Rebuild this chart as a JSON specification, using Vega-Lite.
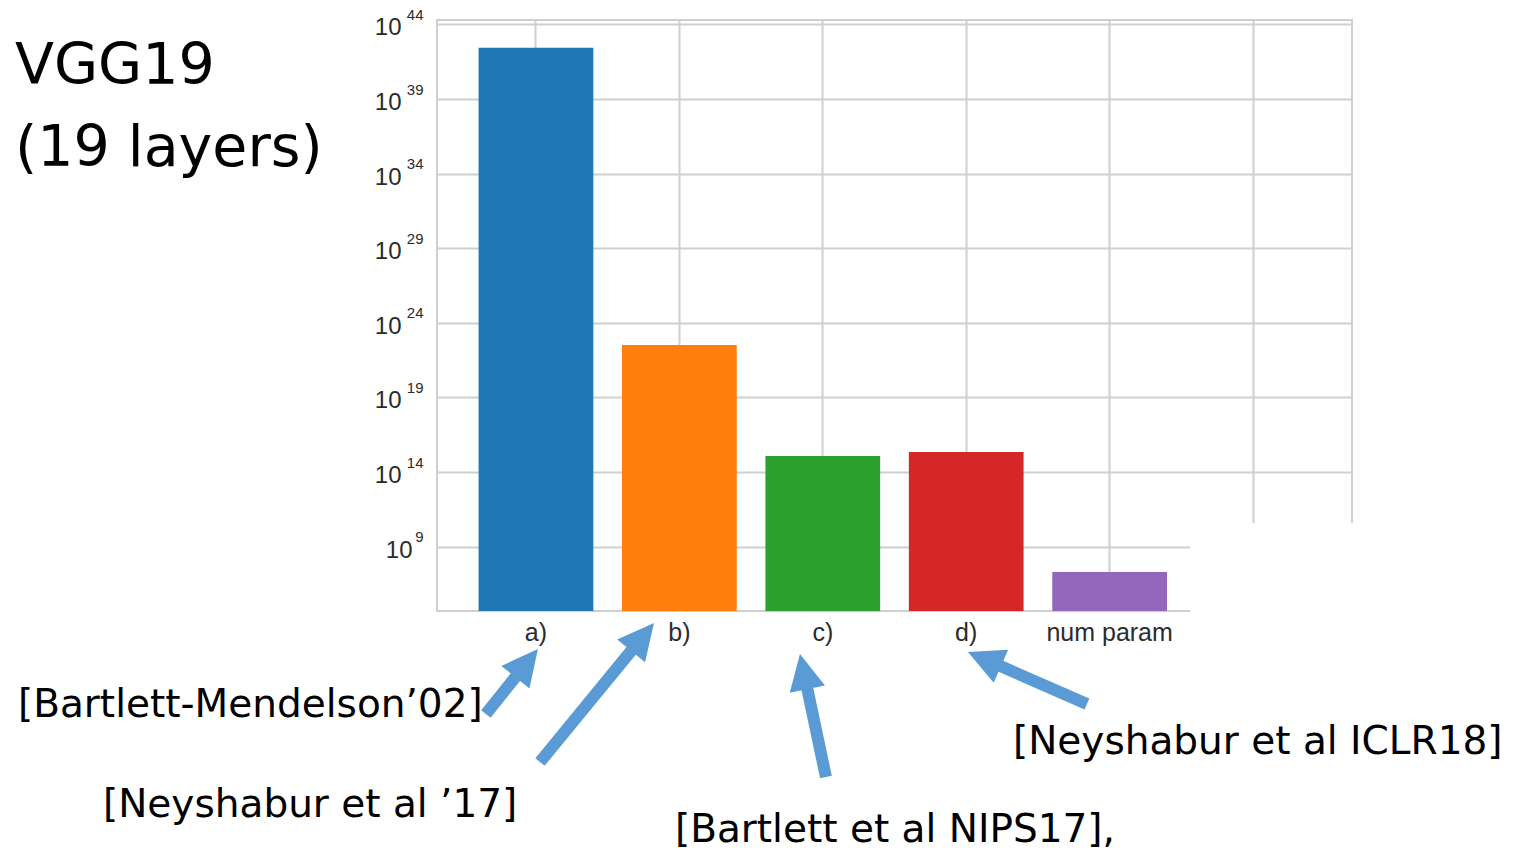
{
  "$schema": "https://vega.github.io/schema/vega-lite/v6.json",
  "width": 915,
  "height": 591,
  "autosize": {"type": "none"},
  "padding": {"left": 437, "top": 20, "right": 167, "bottom": 239},
  "background": "white",
  "config": {
    "view": {"stroke": "#cfcfcf", "strokeWidth": 2},
    "axis": {"ticks": false, "domain": false, "grid": true, "gridColor": "#cfcfcf", "gridWidth": 2, "title": null, "labelFont": "Liberation Sans", "labelColor": "#2b2b2b", "labelFontSize": 22}
  },
  "datasets": {
    "barvalues": [
      {"bound": "a)", "value": 2.8e42},
      {"bound": "b)", "value": 3.3e22},
      {"bound": "c)", "value": 1.2e15},
      {"bound": "d)", "value": 2.2e15},
      {"bound": "num param", "value": 2.0e7}
    ],
    "arrows": [
      {"cite": "A", "ax": -0.349, "ay": -2.21, "bx": -0.0997, "by": 0.78},
      {"cite": "B", "ax": 0.028, "ay": -5.43, "bx": 0.708, "by": 2.54},
      {"cite": "C", "ax": 2.022, "ay": -6.44, "bx": 1.878, "by": 0.11},
      {"cite": "D", "ax": 3.842, "ay": -1.54, "bx": 3.178, "by": 1.25}
    ],
    "titles": [
      {"label": "VGG19", "ax": -3.633, "ay": 41.15},
      {"label": "(19 layers)", "ax": -3.633, "ay": 35.65}
    ],
    "citations": [
      {"label": "[Bartlett-Mendelson’02]", "ax": -3.612, "ay": -1.61},
      {"label": "[Neyshabur et al ’17]", "ax": -3.019, "ay": -8.31},
      {"label": "[Bartlett et al NIPS17],", "ax": 0.969, "ay": -9.98},
      {"label": "[Neyshabur et al ICLR18]", "ax": 3.326, "ay": -4.09}
    ],
    "cover": [
      {"x1": 4.561, "x2": 5.746, "y1": 10.59, "y2": 2.08}
    ]
  },
  "layer": [
    {
      "data": {"name": "barvalues"},
      "layer": [
        {
          "mark": {"type": "bar"},
          "encoding": {
            "x": {
              "field": "bound", "type": "nominal", "sort": null,
              "scale": {"domain": ["a)", "b)", "c)", "d)", "num param", "e)"], "paddingInner": 0.2, "paddingOuter": 0.29},
              "axis": {"labelAngle": 0, "labelPadding": 9, "labelFontSize": 25, "bandPosition": 0.5, "labelExpr": "datum.value == 'e)' ? '' : datum.label"}
            },
            "y": {
              "field": "value", "type": "quantitative", "stack": null,
              "scale": {"type": "log", "domain": [48978, 1.995e44], "nice": false},
              "axis": {
                "orient": "left",
                "values": [1e9, 1e14, 1e19, 1e24, 1e29, 1e34, 1e39, 1e44],
                "labelFontSize": 24,
                "labelOffset": 3.5,
                "labelPadding": {"condition": {"test": "datum.value < 1e10", "value": 25}, "value": 36},
                "labelExpr": "'10'"
              }
            },
            "color": {
              "field": "bound", "type": "nominal",
              "scale": {"domain": ["a)", "b)", "c)", "d)", "num param"], "range": ["#1f77b4", "#ff7f0e", "#2ca02c", "#d62728", "#9467bd"]},
              "legend": null
            }
          }
        },
        {
          "mark": {"type": "bar", "opacity": 0},
          "encoding": {
            "x": {"field": "bound", "type": "nominal", "sort": null},
            "y": {
              "field": "value", "type": "quantitative", "stack": null,
              "axis": {
                "orient": "left",
                "grid": false,
                "values": [1e9, 1e14, 1e19, 1e24, 1e29, 1e34, 1e39, 1e44],
                "labelFontSize": 15,
                "labelOffset": -10,
                "labelPadding": 14,
                "labelExpr": "round(log(datum.value)/LN10)"
              }
            }
          }
        }
      ],
      "resolve": {"axis": {"y": "independent"}}
    },
    {
      "layer": [
        {
          "data": {"name": "cover"},
          "mark": {"type": "rect", "fill": "white", "clip": false},
          "encoding": {
            "x": {"field": "x1", "type": "quantitative", "scale": {"domain": [-0.69, 5.69], "nice": false, "zero": false}, "axis": null},
            "x2": {"field": "x2"},
            "y": {"field": "y1", "type": "quantitative", "scale": {"domain": [4.69, 44.3], "nice": false, "zero": false}, "axis": null},
            "y2": {"field": "y2"}
          }
        },
        {
          "data": {"name": "arrows"},
          "mark": {"type": "rule", "color": "#5b9bd5", "strokeWidth": 12, "strokeCap": "butt", "clip": false},
          "encoding": {
            "x": {"field": "ax", "type": "quantitative", "scale": {"domain": [-0.69, 5.69], "nice": false, "zero": false}, "axis": null},
            "y": {"field": "ay", "type": "quantitative", "scale": {"domain": [4.69, 44.3], "nice": false, "zero": false}, "axis": null},
            "x2": {"field": "bx"},
            "y2": {"field": "by"}
          }
        },
        {
          "data": {"name": "arrows"},
          "transform": [{"filter": "datum.cite == 'A'"}],
          "mark": {"type": "point", "shape": "M0,-1.3L0.9,0.5L-0.9,0.5Z", "size": 1600, "filled": true, "opacity": 1, "color": "#5b9bd5", "angle": 38.7, "strokeWidth": 0, "clip": false},
          "encoding": {
            "x": {"field": "bx", "type": "quantitative", "scale": {"domain": [-0.69, 5.69], "nice": false, "zero": false}, "axis": null},
            "y": {"field": "by", "type": "quantitative", "scale": {"domain": [4.69, 44.3], "nice": false, "zero": false}, "axis": null}
          }
        },
        {
          "data": {"name": "arrows"},
          "transform": [{"filter": "datum.cite == 'B'"}],
          "mark": {"type": "point", "shape": "M0,-1.3L0.9,0.5L-0.9,0.5Z", "size": 1600, "filled": true, "opacity": 1, "color": "#5b9bd5", "angle": 39.4, "strokeWidth": 0, "clip": false},
          "encoding": {
            "x": {"field": "bx", "type": "quantitative", "scale": {"domain": [-0.69, 5.69], "nice": false, "zero": false}, "axis": null},
            "y": {"field": "by", "type": "quantitative", "scale": {"domain": [4.69, 44.3], "nice": false, "zero": false}, "axis": null}
          }
        },
        {
          "data": {"name": "arrows"},
          "transform": [{"filter": "datum.cite == 'C'"}],
          "mark": {"type": "point", "shape": "M0,-1.3L0.9,0.5L-0.9,0.5Z", "size": 1600, "filled": true, "opacity": 1, "color": "#5b9bd5", "angle": 348.1, "strokeWidth": 0, "clip": false},
          "encoding": {
            "x": {"field": "bx", "type": "quantitative", "scale": {"domain": [-0.69, 5.69], "nice": false, "zero": false}, "axis": null},
            "y": {"field": "by", "type": "quantitative", "scale": {"domain": [4.69, 44.3], "nice": false, "zero": false}, "axis": null}
          }
        },
        {
          "data": {"name": "arrows"},
          "transform": [{"filter": "datum.cite == 'D'"}],
          "mark": {"type": "point", "shape": "M0,-1.3L0.9,0.5L-0.9,0.5Z", "size": 1600, "filled": true, "opacity": 1, "color": "#5b9bd5", "angle": 293.6, "strokeWidth": 0, "clip": false},
          "encoding": {
            "x": {"field": "bx", "type": "quantitative", "scale": {"domain": [-0.69, 5.69], "nice": false, "zero": false}, "axis": null},
            "y": {"field": "by", "type": "quantitative", "scale": {"domain": [4.69, 44.3], "nice": false, "zero": false}, "axis": null}
          }
        },
        {
          "data": {"name": "titles"},
          "mark": {"type": "text", "align": "left", "baseline": "middle", "font": "DejaVu Sans", "fontSize": 57, "color": "black", "clip": false},
          "encoding": {
            "x": {"field": "ax", "type": "quantitative", "scale": {"domain": [-0.69, 5.69], "nice": false, "zero": false}, "axis": null},
            "y": {"field": "ay", "type": "quantitative", "scale": {"domain": [4.69, 44.3], "nice": false, "zero": false}, "axis": null},
            "text": {"field": "label"}
          }
        },
        {
          "data": {"name": "citations"},
          "mark": {"type": "text", "align": "left", "baseline": "middle", "font": "DejaVu Sans", "fontSize": 39, "color": "black", "clip": false},
          "encoding": {
            "x": {"field": "ax", "type": "quantitative", "scale": {"domain": [-0.69, 5.69], "nice": false, "zero": false}, "axis": null},
            "y": {"field": "ay", "type": "quantitative", "scale": {"domain": [4.69, 44.3], "nice": false, "zero": false}, "axis": null},
            "text": {"field": "label"}
          }
        }
      ]
    }
  ],
  "resolve": {"scale": {"x": "independent", "y": "independent", "color": "independent"}}
}
